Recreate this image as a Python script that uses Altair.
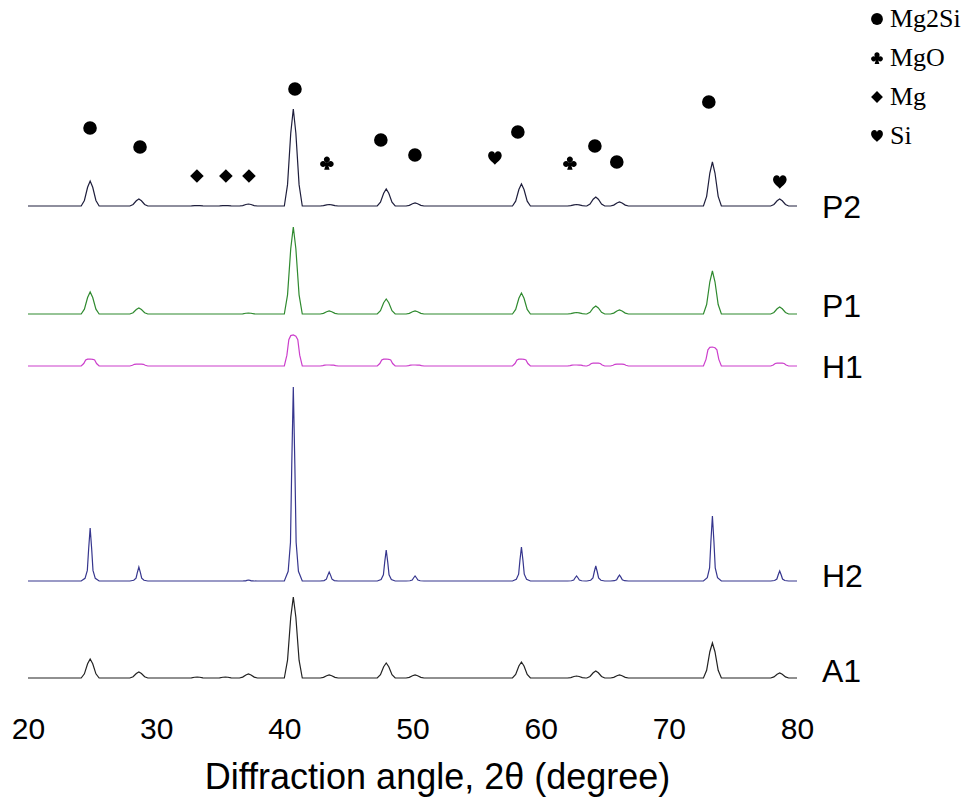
import altair as alt
import pandas as pd

# ---------------- data ----------------
samples = ["P2", "P1", "H1", "H2", "A1"]
sample_colors = ["#1e1e3c", "#2f8a2f", "#cc3fcc", "#36368e", "#222222"]
baselines = [494, 386, 334, 119, 22]          # stacking offset (a.u.)
label_y = [482, 383, 322, 113, 18]            # level of the sample names

peak_2theta = [24.85, 28.65, 33.2, 35.4, 37.2, 40.7, 43.5, 47.95, 50.2,
               58.5, 62.8, 64.3, 66.15, 73.4, 78.65]
P2_heights = [25, 7, 0.5, 0.5, 2, 97, 1.5, 17, 3, 22, 1.5, 9, 4, 44, 7]
P1_heights = [22, 6, 0, 0, 1, 87, 3, 15, 3, 21, 1.5, 8, 4, 43, 7]
H1_heights = [7, 2, 0, 0, 0, 31, 1, 7, 1, 7, 1, 3, 2, 19, 3]
H2_heights = [53, 14, 0, 0, 1, 194, 9, 31, 5, 34, 5, 15, 6, 65, 10]
A1_heights = [19, 6, 1, 1, 4, 81, 3, 15, 3, 16, 2, 7, 3, 35, 5]

# peak outline (offset in degrees, fraction of peak height) read per pattern
profile_normal = [(-0.7, 0), (-0.45, 0.22), (-0.2, 0.75), (0, 1), (0.2, 0.75), (0.45, 0.22), (0.7, 0)]
profile_broad = [(-0.7, 0), (-0.5, 0.35), (-0.35, 0.85), (-0.2, 0.98), (0, 1), (0.2, 0.96), (0.35, 0.85), (0.5, 0.35), (0.7, 0)]
profile_sharp = [(-0.7, 0), (-0.4, 0.05), (-0.22, 0.2), (-0.12, 0.6), (0, 1), (0.12, 0.6), (0.22, 0.2), (0.4, 0.05), (0.7, 0)]
sample_profiles = [profile_normal, profile_normal, profile_broad, profile_sharp, profile_normal]
sample_heights = [P2_heights, P1_heights, H1_heights, H2_heights, A1_heights]

scan_start, scan_end = 20, 80

# phase markers above the P2 pattern
marker_phase = ["Mg2Si"] * 9 + ["Mg"] * 3 + ["MgO"] * 2 + ["Si"] * 2
marker_2theta = [24.84, 28.74, 40.83, 47.53, 50.19, 58.22, 64.23, 65.94, 73.12,
                 33.18, 35.44, 37.24,
                 43.32, 62.28,
                 56.43, 78.66]
marker_level = [572, 553, 611, 560, 545, 568, 554, 538, 598,
                524, 524, 524,
                537, 537,
                542, 518]
phases = ["Mg2Si", "MgO", "Mg", "Si"]

# ---------------- tables ----------------
rows = []
for s, base, hts, prof in zip(samples, baselines, sample_heights, sample_profiles):
    pts = [(scan_start, base)]
    for pos, h in zip(peak_2theta, hts):
        for dx, f in prof:
            pts.append((pos + dx, base + h * f))
    pts.append((scan_end, base))
    for i, (x, y) in enumerate(pts):
        rows.append({"sample": s, "two_theta": x, "intensity": y, "idx": i})
trace_df = pd.DataFrame(rows)

marker_df = pd.DataFrame({"phase": marker_phase, "two_theta": marker_2theta,
                          "intensity": marker_level})
label_df = pd.DataFrame({"sample": samples, "two_theta": [scan_end] * len(samples),
                         "intensity": label_y})

club = ("M-0.44,-0.52 A0.44,0.44 0 1 0 0.44,-0.52 A0.44,0.44 0 1 0 -0.44,-0.52 Z "
        "M-1,0.14 A0.44,0.44 0 1 0 -0.12,0.14 A0.44,0.44 0 1 0 -1,0.14 Z "
        "M0.12,0.14 A0.44,0.44 0 1 0 1,0.14 A0.44,0.44 0 1 0 0.12,0.14 Z "
        "M0,-0.3 L-0.35,0.1 L0,0.45 L0.35,0.1 Z "
        "M-0.12,0.1 L-0.4,1 L0.4,1 L0.12,0.1 Z")
heart = ("M0,1 C-0.2,0.75 -1,0.25 -1,-0.35 C-1,-0.8 -0.7,-1 -0.45,-1 "
         "C-0.2,-1 -0.05,-0.85 0,-0.62 C0.05,-0.85 0.2,-1 0.45,-1 "
         "C0.7,-1 1,-0.8 1,-0.35 C1,0.25 0.2,0.75 0,1 Z")
shape_range = ["circle", club, "diamond", heart]

# ---------------- chart ----------------
x_axis = alt.Axis(values=[20, 30, 40, 50, 60, 70, 80], format="d",
                  title="Diffraction angle, 2θ (degree)",
                  grid=False, domain=False, ticks=False, tickSize=0,
                  labelFont="Liberation Sans", labelFontSize=30, labelColor="black",
                  labelPadding=38, labelBaseline="alphabetic", labelFlush=False,
                  titleFont="Liberation Sans", titleFontSize=36, titleFontWeight="normal",
                  titleColor="black", titleX=409, titleY=88, titleBaseline="alphabetic",
                  titleAlign="center")
x_enc = alt.X("two_theta:Q", scale=alt.Scale(domain=[scan_start, scan_end], nice=False, zero=False),
              axis=x_axis)
y_enc = alt.Y("intensity:Q", scale=alt.Scale(domain=[0, 700], nice=False, zero=False), axis=None)

lines = alt.Chart(trace_df).mark_line(strokeWidth=1.2).encode(
    x=x_enc, y=y_enc,
    color=alt.Color("sample:N", scale=alt.Scale(domain=samples, range=sample_colors), legend=None),
    detail="sample:N",
    order="idx:Q",
)

markers = alt.Chart(marker_df).mark_point(filled=True, size=185, opacity=1, color="black").encode(
    x=x_enc, y=y_enc,
    shape=alt.Shape("phase:N", scale=alt.Scale(domain=phases, range=shape_range),
                    legend=alt.Legend(title=None, orient="none", legendX=836, legendY=6,
                                      labelFont="Liberation Serif", labelFontSize=26,
                                      labelColor="black", symbolSize=140,
                                      symbolFillColor="black", symbolStrokeColor="black",
                                      symbolStrokeWidth=0, rowPadding=13, padding=0,
                                      labelOffset=0)),
)

labels = alt.Chart(label_df).mark_text(align="left", baseline="alphabetic", dx=25,
                                       font="Liberation Sans", fontSize=32, color="black").encode(
    x=x_enc, y=y_enc, text="sample:N")

chart = alt.layer(lines, markers, labels).properties(
    width=769, height=700,
    padding={"left": 28, "top": 0, "right": 172, "bottom": 99},
    autosize=alt.AutoSizeParams(type="none"),
    background="white",
).configure_view(stroke=None)

chart.save("out.html", embed_options={"renderer": "svg", "actions": False})
